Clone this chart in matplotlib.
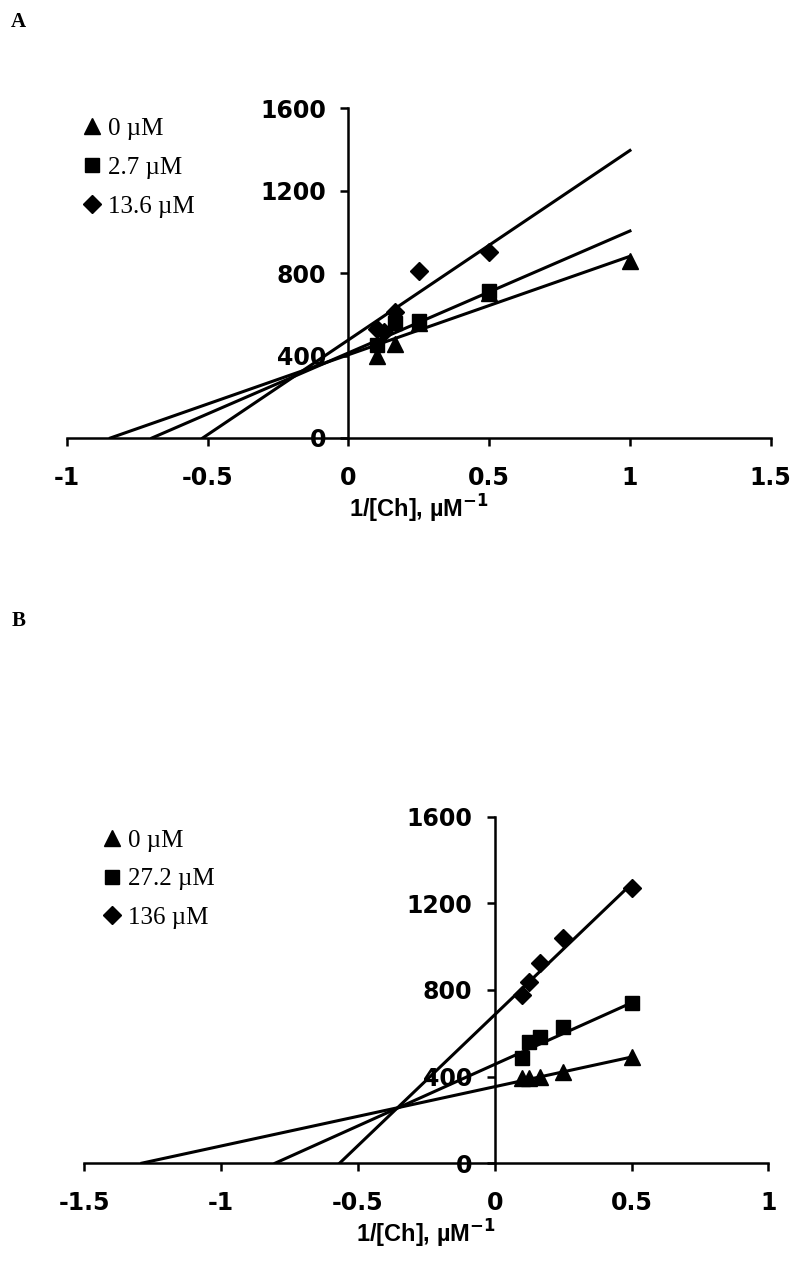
import numpy as np
import matplotlib
matplotlib.use("Agg")
import matplotlib.pyplot as plt
from matplotlib.lines import Line2D

# panel A: inhibitor 0, 2.7, 13.6 uM
a_tri_x = [0.1, 0.167, 0.25, 0.5, 1.0]
a_tri_y = [400, 455, 560, 705, 860]
a_sq_x = [0.1, 0.167, 0.25, 0.5]
a_sq_y = [450, 557, 570, 715]
a_dia_x = [0.1, 0.125, 0.167, 0.25, 0.5]
a_dia_y = [530, 515, 612, 811, 903]
a_slope = [478, 592, 920]
a_icpt = [404, 413, 476]
a_labels = ["0 µM", "2.7 µM", "13.6 µM"]

# panel B: inhibitor 0, 27.2, 136 uM
b_x = [0.1, 0.125, 0.167, 0.25, 0.5]
b_tri_y = [393, 393, 400, 420, 488]
b_sq_y = [485, 559, 582, 631, 740]
b_dia_y = [775, 836, 924, 1041, 1272]
b_slope = [274, 569, 1210]
b_icpt = [353, 456, 685]
b_labels = ["0 µM", "27.2 µM", "136 µM"]

markers = ["^", "s", "D"]
msizes = [12, 9.5, 9]

TICKFONT = dict(family="DejaVu Sans", weight="bold", size=17)


def setup_axes(ax, xlim, xticks):
    ax.set_xlim(*xlim)
    ax.set_ylim(0, 1600)
    ax.spines["left"].set_position(("data", 0))
    ax.spines["bottom"].set_position(("data", 0))
    ax.spines["top"].set_visible(False)
    ax.spines["right"].set_visible(False)
    for s in ["left", "bottom"]:
        ax.spines[s].set_linewidth(1.8)
    ax.set_xticks(xticks)
    ax.set_xticklabels([("%g" % t) for t in xticks], fontdict=TICKFONT)
    ax.set_yticks([0, 400, 800, 1200, 1600])
    ax.set_yticklabels(["0", "400", "800", "1200", "1600"], fontdict=TICKFONT)
    ax.tick_params(axis="x", direction="out", length=6, width=1.8, pad=14)
    ax.tick_params(axis="y", direction="out", length=6, width=1.8, pad=10)
    ax.set_xlabel("1/[Ch], µM$^{\\mathbf{-1}}$", family="Liberation Sans",
                  weight="bold", size=17, labelpad=2)


def draw_fits(ax, slopes, icpts, xend):
    for m, b in zip(slopes, icpts):
        xs = np.array([-b / m, xend])
        ax.plot(xs, m * xs + b, color="black", lw=2.2, zorder=2)


def add_legend(fig, labels, x, y):
    handles = [Line2D([], [], ls="none", marker=mk, ms=ms, color="black")
               for mk, ms in zip(markers, msizes)]
    fig.legend(handles, labels, loc="upper left", bbox_to_anchor=(x, y),
               frameon=False, borderpad=0, handlelength=0.9, handletextpad=0.2,
               labelspacing=0.65, prop=dict(family="Liberation Serif", size=18))


fig = plt.figure(figsize=(8, 12.68), dpi=100)

axA = fig.add_axes([0.0836, 0.6546, 0.8798, 0.2599])
setup_axes(axA, (-1, 1.5), [-1, -0.5, 0, 0.5, 1, 1.5])
draw_fits(axA, a_slope, a_icpt, 1.0)
axA.plot(a_tri_x, a_tri_y, ls="none", marker="^", ms=12, color="black", zorder=3)
axA.plot(a_sq_x, a_sq_y, ls="none", marker="s", ms=9.5, color="black", zorder=3)
axA.plot(a_dia_x, a_dia_y, ls="none", marker="D", ms=9, color="black", zorder=3)
add_legend(fig, a_labels, 0.085, 0.917)

axB = fig.add_axes([0.105, 0.0827, 0.8555, 0.2732])
setup_axes(axB, (-1.5, 1), [-1.5, -1, -0.5, 0, 0.5, 1])
draw_fits(axB, b_slope, b_icpt, 0.5)
axB.plot(b_x, b_tri_y, ls="none", marker="^", ms=12, color="black", zorder=3)
axB.plot(b_x, b_sq_y, ls="none", marker="s", ms=9.5, color="black", zorder=3)
axB.plot(b_x, b_dia_y, ls="none", marker="D", ms=9, color="black", zorder=3)
add_legend(fig, b_labels, 0.110, 0.356)

fig.text(0.014, 0.983, "A", family="Liberation Serif", weight="bold", size=15, va="center")
fig.text(0.014, 0.510, "B", family="Liberation Serif", weight="bold", size=15, va="center")

fig.savefig("out.png", dpi=100)
